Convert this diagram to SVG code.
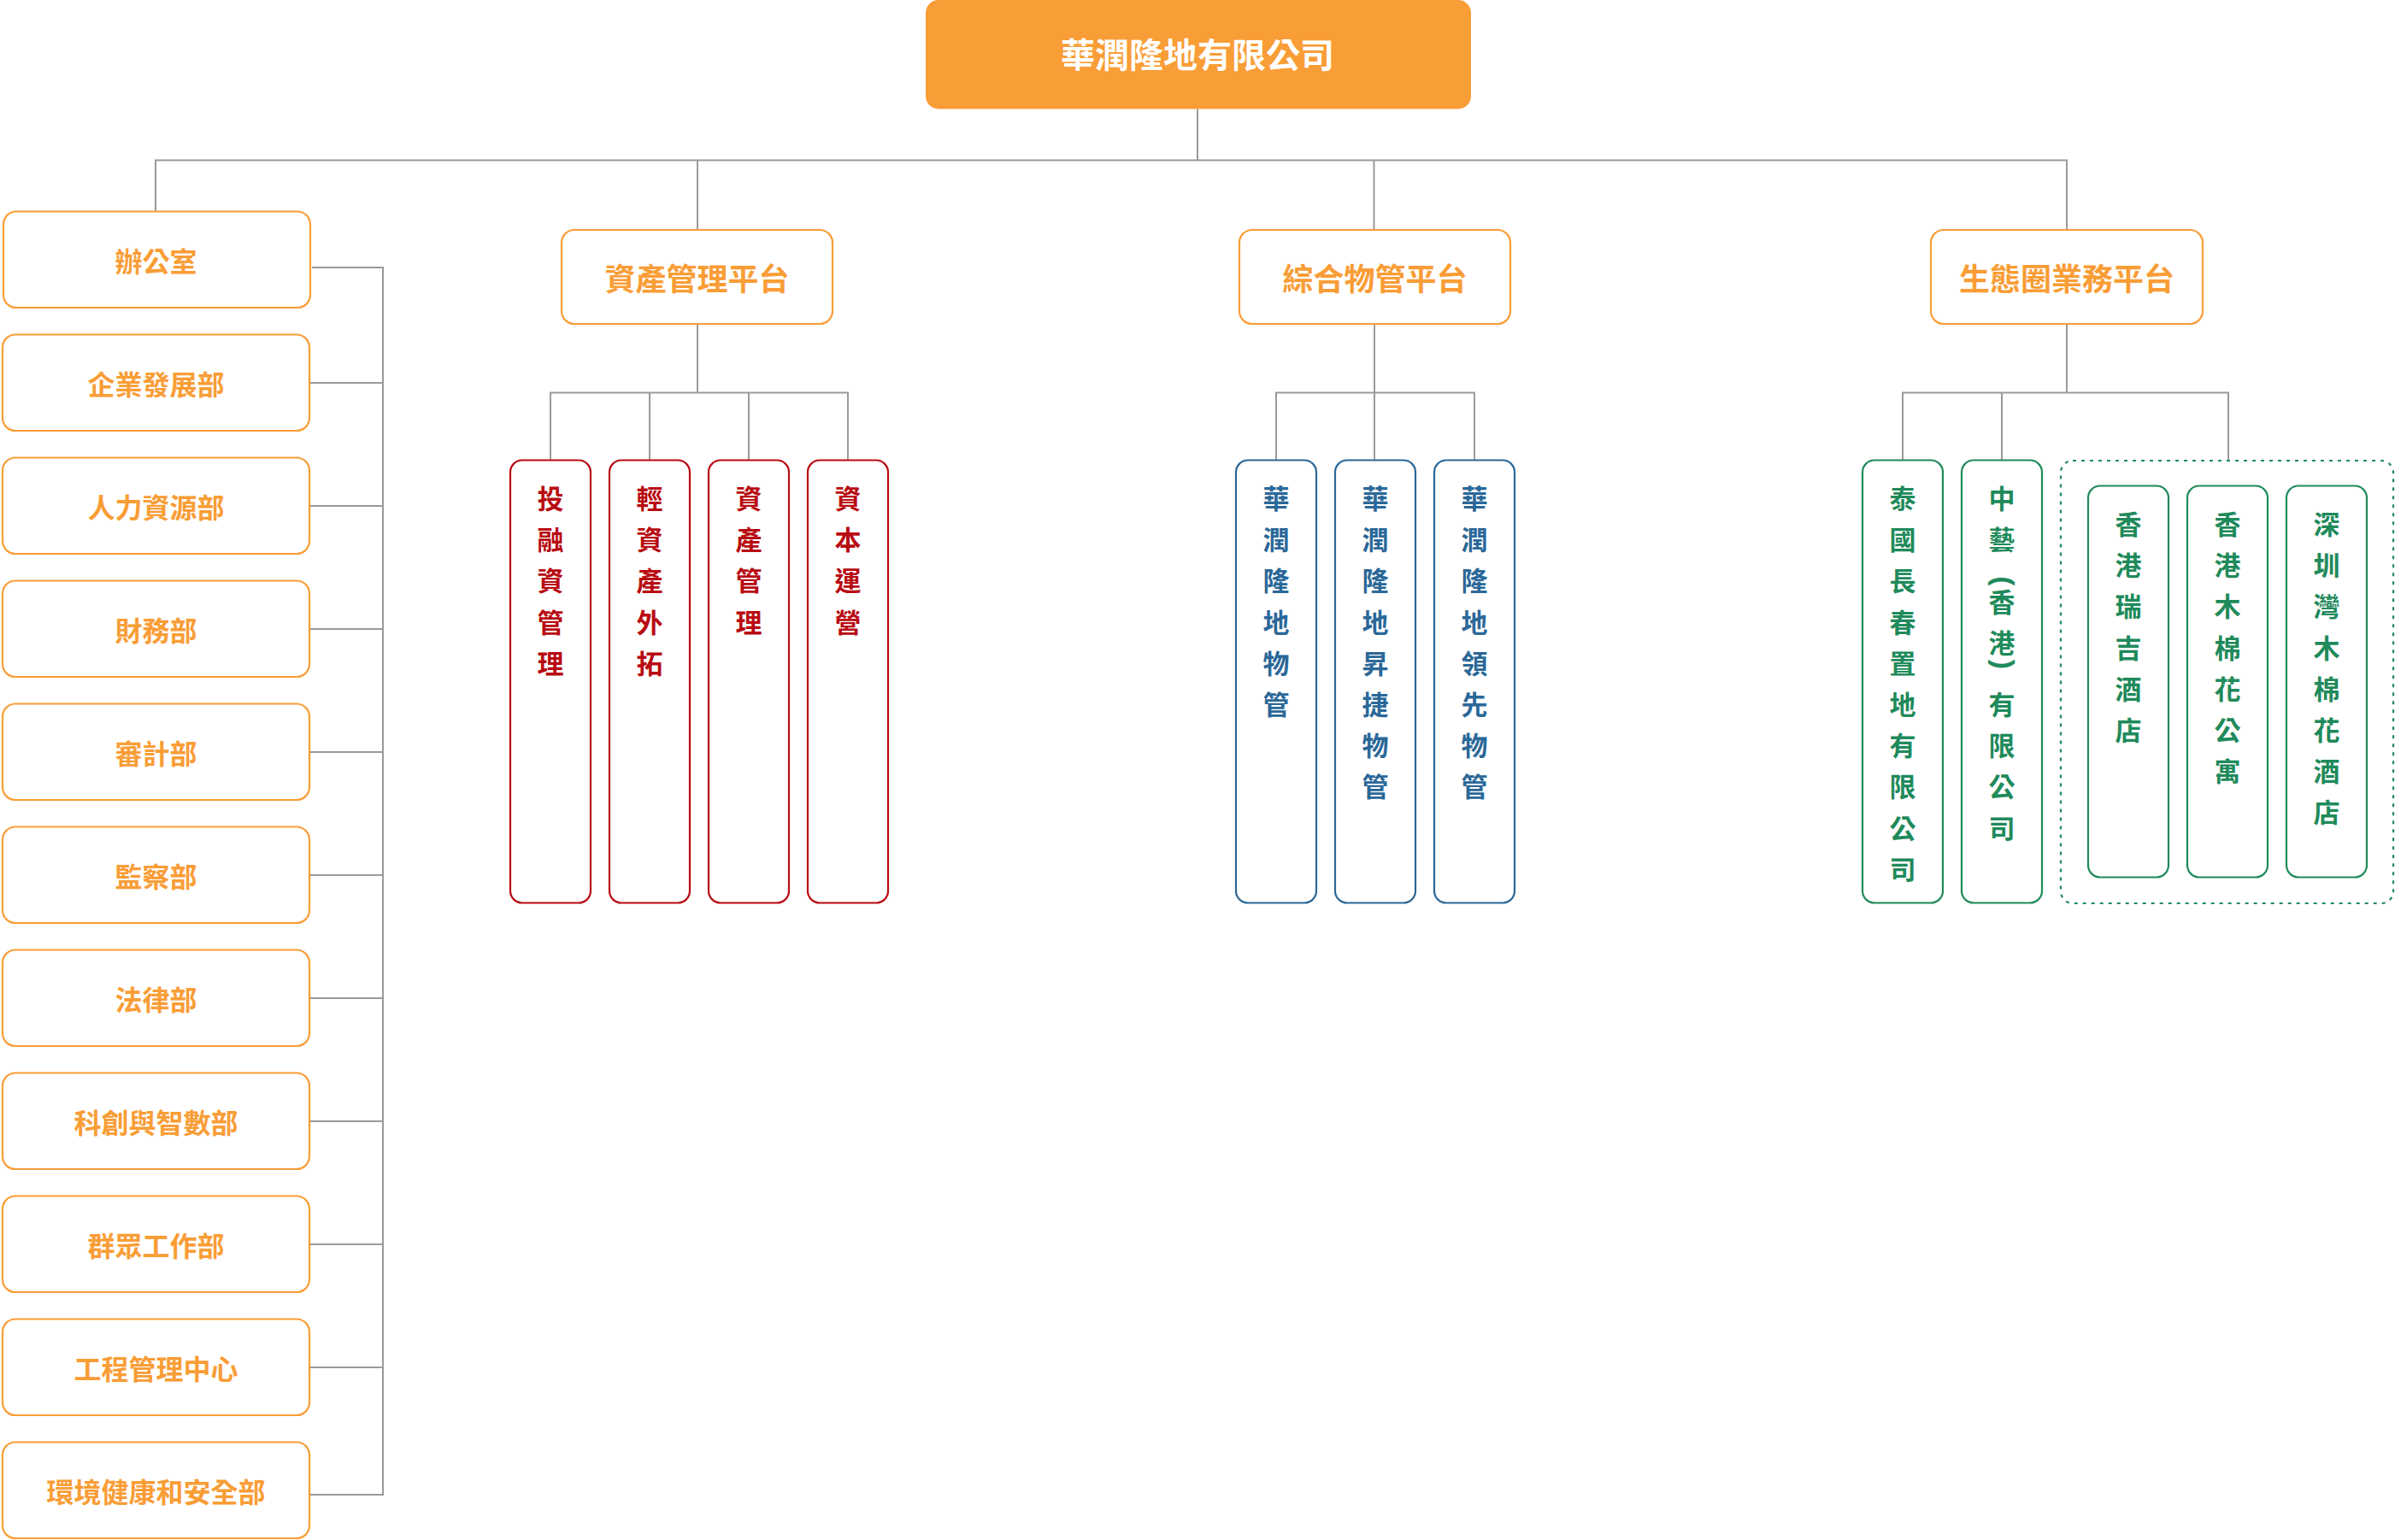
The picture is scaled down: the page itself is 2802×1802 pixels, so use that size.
<svg xmlns="http://www.w3.org/2000/svg" width="2802" height="1802" viewBox="0 0 2802 1802">
<style>
text{font-family:"Noto Sans CJK TC","Noto Sans CJK SC",sans-serif;font-weight:700;text-anchor:middle}
.conn{fill:none;stroke:#9a9a9a;stroke-width:2}
.ob{fill:#fff;stroke:#F99D36;stroke-width:2.2}
.rb{fill:#fff;stroke:#B80B12;stroke-width:2.2}
.bb{fill:#fff;stroke:#2B6898;stroke-width:2.2}
.gb{fill:#fff;stroke:#1F8A5B;stroke-width:2.2}
.gd{fill:none;stroke:#1F8A5B;stroke-width:2.2;stroke-dasharray:4 6}
.ot{fill:#F99D36;font-size:32px}
.pt{fill:#F99D36;font-size:36px}
.rt{fill:#B80B12;font-size:31px}
.bt{fill:#2B6898;font-size:31px}
.gt{fill:#1F8A5B;font-size:31px}
.par{font-family:"Liberation Sans",Arial,sans-serif;font-size:34px;font-weight:700}
</style>
<rect width="2802" height="1802" fill="#fff"/>
<g id="connectors">
<path class="conn" d="M1401 127.5V187.5M182 247.5V187.5H2418V269M816 187.5V269M1607.5 187.5V269"/>
<path class="conn" d="M816 378.5V459.6M644 538V459.6H992V538M760 459.6V538M876 459.6V538"/>
<path class="conn" d="M1608 378.5V459.6M1493 538V459.6H1725V538M1608 459.6V538"/>
<path class="conn" d="M2418 378.5V459.6M2226 538V459.6H2607V538M2342 459.6V538"/>
<path class="conn" d="M365 313H448V1749H362M362 448H448M362 592H448M362 736H448M362 880H448M362 1024H448M362 1168H448M362 1312H448M362 1456H448M362 1600H448"/>
</g>
<g id="root">
<rect x="1083" y="0" width="638" height="127.5" rx="15" fill="#F99D36"/>
<text x="1401" y="79" style="fill:#fff;font-size:40px">華潤隆地有限公司</text>
</g>
<g id="dept-1"><rect class="ob" x="4" y="247.5" width="359" height="112.5" rx="15"/><text class="ot" x="182.5" y="318">辦公室</text></g>
<g id="dept-2"><rect class="ob" x="3" y="391.5" width="359" height="112.5" rx="15"/><text class="ot" x="182.5" y="462">企業發展部</text></g>
<g id="dept-3"><rect class="ob" x="3" y="535.5" width="359" height="112.5" rx="15"/><text class="ot" x="182.5" y="606">人力資源部</text></g>
<g id="dept-4"><rect class="ob" x="3" y="679.5" width="359" height="112.5" rx="15"/><text class="ot" x="182.5" y="750">財務部</text></g>
<g id="dept-5"><rect class="ob" x="3" y="823.5" width="359" height="112.5" rx="15"/><text class="ot" x="182.5" y="894">審計部</text></g>
<g id="dept-6"><rect class="ob" x="3" y="967.5" width="359" height="112.5" rx="15"/><text class="ot" x="182.5" y="1038">監察部</text></g>
<g id="dept-7"><rect class="ob" x="3" y="1111.5" width="359" height="112.5" rx="15"/><text class="ot" x="182.5" y="1182">法律部</text></g>
<g id="dept-8"><rect class="ob" x="3" y="1255.5" width="359" height="112.5" rx="15"/><text class="ot" x="182.5" y="1326">科創與智數部</text></g>
<g id="dept-9"><rect class="ob" x="3" y="1399.5" width="359" height="112.5" rx="15"/><text class="ot" x="182.5" y="1470">群眾工作部</text></g>
<g id="dept-10"><rect class="ob" x="3" y="1543.5" width="359" height="112.5" rx="15"/><text class="ot" x="182.5" y="1614">工程管理中心</text></g>
<g id="dept-11"><rect class="ob" x="3" y="1687.5" width="359" height="112.5" rx="15"/><text class="ot" x="182.5" y="1758">環境健康和安全部</text></g>
<g id="platform-asset"><rect class="ob" x="657" y="269" width="317" height="110" rx="15"/><text class="pt" x="815.5" y="340">資產管理平台</text></g>
<g id="platform-property"><rect class="ob" x="1450" y="269" width="317" height="110" rx="15"/><text class="pt" x="1608.5" y="340">綜合物管平台</text></g>
<g id="platform-eco"><rect class="ob" x="2259" y="269" width="318" height="110" rx="15"/><text class="pt" x="2418" y="340">生態圈業務平台</text></g>
<g id="asset-1"><rect class="rb" x="597" y="538.5" width="94" height="518" rx="14"/><text class="rt"><tspan x="644" y="595">投</tspan><tspan x="644" y="643.2">融</tspan><tspan x="644" y="691.4">資</tspan><tspan x="644" y="739.6">管</tspan><tspan x="644" y="787.8">理</tspan></text></g>
<g id="asset-2"><rect class="rb" x="713" y="538.5" width="94" height="518" rx="14"/><text class="rt"><tspan x="760" y="595">輕</tspan><tspan x="760" y="643.2">資</tspan><tspan x="760" y="691.4">產</tspan><tspan x="760" y="739.6">外</tspan><tspan x="760" y="787.8">拓</tspan></text></g>
<g id="asset-3"><rect class="rb" x="829" y="538.5" width="94" height="518" rx="14"/><text class="rt"><tspan x="876" y="595">資</tspan><tspan x="876" y="643.2">產</tspan><tspan x="876" y="691.4">管</tspan><tspan x="876" y="739.6">理</tspan></text></g>
<g id="asset-4"><rect class="rb" x="945" y="538.5" width="94" height="518" rx="14"/><text class="rt"><tspan x="992" y="595">資</tspan><tspan x="992" y="643.2">本</tspan><tspan x="992" y="691.4">運</tspan><tspan x="992" y="739.6">營</tspan></text></g>
<g id="prop-1"><rect class="bb" x="1446" y="538.5" width="94" height="518" rx="14"/><text class="bt"><tspan x="1493" y="595">華</tspan><tspan x="1493" y="643.2">潤</tspan><tspan x="1493" y="691.4">隆</tspan><tspan x="1493" y="739.6">地</tspan><tspan x="1493" y="787.8">物</tspan><tspan x="1493" y="836">管</tspan></text></g>
<g id="prop-2"><rect class="bb" x="1562" y="538.5" width="94" height="518" rx="14"/><text class="bt"><tspan x="1609" y="595">華</tspan><tspan x="1609" y="643.2">潤</tspan><tspan x="1609" y="691.4">隆</tspan><tspan x="1609" y="739.6">地</tspan><tspan x="1609" y="787.8">昇</tspan><tspan x="1609" y="836">捷</tspan><tspan x="1609" y="884.2">物</tspan><tspan x="1609" y="932.4">管</tspan></text></g>
<g id="prop-3"><rect class="bb" x="1678" y="538.5" width="94" height="518" rx="14"/><text class="bt"><tspan x="1725" y="595">華</tspan><tspan x="1725" y="643.2">潤</tspan><tspan x="1725" y="691.4">隆</tspan><tspan x="1725" y="739.6">地</tspan><tspan x="1725" y="787.8">領</tspan><tspan x="1725" y="836">先</tspan><tspan x="1725" y="884.2">物</tspan><tspan x="1725" y="932.4">管</tspan></text></g>
<g id="eco-1"><rect class="gb" x="2179" y="538.5" width="94" height="518" rx="14"/><text class="gt"><tspan x="2226" y="595">泰</tspan><tspan x="2226" y="643.2">國</tspan><tspan x="2226" y="691.4">長</tspan><tspan x="2226" y="739.6">春</tspan><tspan x="2226" y="787.8">置</tspan><tspan x="2226" y="836">地</tspan><tspan x="2226" y="884.2">有</tspan><tspan x="2226" y="932.4">限</tspan><tspan x="2226" y="980.6">公</tspan><tspan x="2226" y="1028.8">司</tspan></text></g>
<g id="eco-2"><rect class="gb" x="2295" y="538.5" width="94" height="518" rx="14"/>
<text class="gt"><tspan x="2342" y="595">中</tspan><tspan x="2342" y="643.2">藝</tspan><tspan x="2342" y="715.5">香</tspan><tspan x="2342" y="763.7">港</tspan><tspan x="2342" y="836">有</tspan><tspan x="2342" y="884.2">限</tspan><tspan x="2342" y="932.4">公</tspan><tspan x="2342" y="980.6">司</tspan></text>
<text class="gt par" x="2342" y="688.8" transform="rotate(90 2342 680)">(</text>
<text class="gt par" x="2342" y="786.2" transform="rotate(90 2342 777.4)">)</text>
</g>
<g id="eco-hotels">
<rect class="gd" x="2411" y="539" width="389" height="518" rx="14"/>
<g id="eco-3"><rect class="gb" x="2443" y="568.5" width="94" height="458" rx="14"/><text class="gt"><tspan x="2490" y="625">香</tspan><tspan x="2490" y="673.2">港</tspan><tspan x="2490" y="721.4">瑞</tspan><tspan x="2490" y="769.6">吉</tspan><tspan x="2490" y="817.8">酒</tspan><tspan x="2490" y="866">店</tspan></text></g>
<g id="eco-4"><rect class="gb" x="2559" y="568.5" width="94" height="458" rx="14"/><text class="gt"><tspan x="2606" y="625">香</tspan><tspan x="2606" y="673.2">港</tspan><tspan x="2606" y="721.4">木</tspan><tspan x="2606" y="769.6">棉</tspan><tspan x="2606" y="817.8">花</tspan><tspan x="2606" y="866">公</tspan><tspan x="2606" y="914.2">寓</tspan></text></g>
<g id="eco-5"><rect class="gb" x="2675" y="568.5" width="94" height="458" rx="14"/><text class="gt"><tspan x="2722" y="625">深</tspan><tspan x="2722" y="673.2">圳</tspan><tspan x="2722" y="721.4">灣</tspan><tspan x="2722" y="769.6">木</tspan><tspan x="2722" y="817.8">棉</tspan><tspan x="2722" y="866">花</tspan><tspan x="2722" y="914.2">酒</tspan><tspan x="2722" y="962.4">店</tspan></text></g>
</g>
</svg>
